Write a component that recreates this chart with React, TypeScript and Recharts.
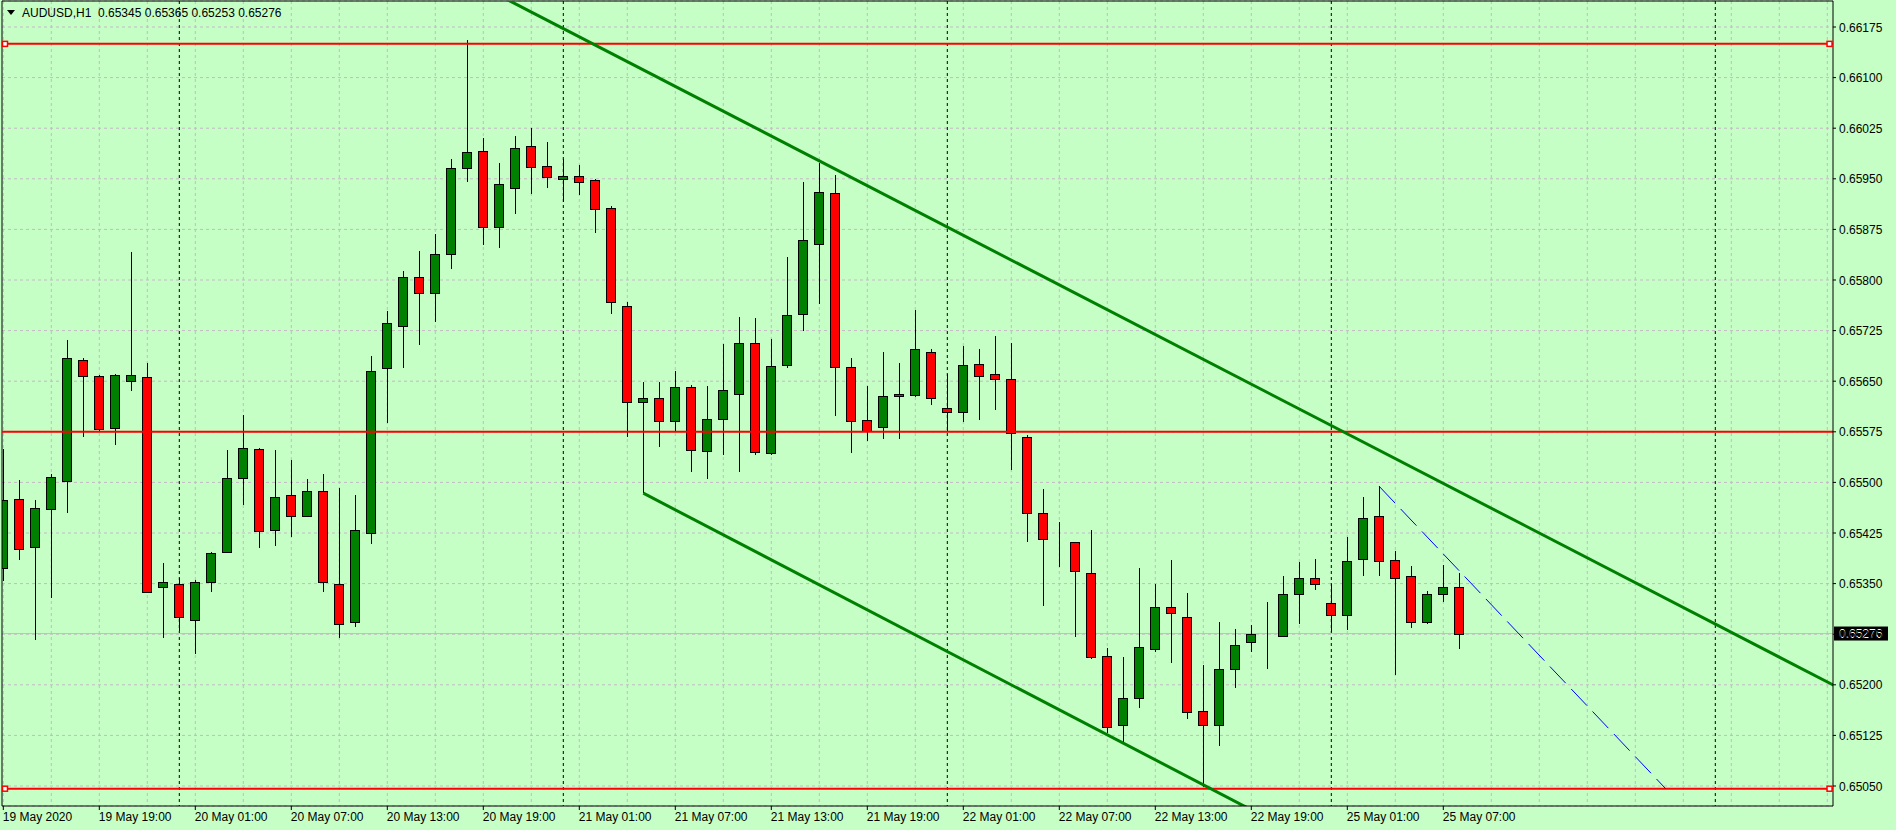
import React from "react";
import {
  ComposedChart,
  Bar,
  XAxis,
  YAxis,
  CartesianGrid,
  ReferenceLine,
  ReferenceDot,
} from "recharts";

// AUDUSD H1 candles, 19 May 2020 13:00 .. 25 May 2020 08:00 (one per hour, weekend skipped)
const opens = [
  0.65373, 0.65476, 0.65404, 0.6546, 0.65502, 0.65682, 0.65657, 0.6558, 0.65651, 0.65656,
  0.65345, 0.65349, 0.65296, 0.65352, 0.65397, 0.65507, 0.65549, 0.6543, 0.65481, 0.6545,
  0.65487, 0.65349, 0.65293, 0.65425, 0.65669, 0.65732, 0.65805, 0.6578, 0.65838, 0.65966,
  0.65991, 0.65878, 0.65936, 0.65998, 0.65969, 0.65949, 0.65954, 0.65948, 0.65906, 0.65761,
  0.65619, 0.65625, 0.65591, 0.65641, 0.65546, 0.65594, 0.65631, 0.65706, 0.65543, 0.65674,
  0.65749, 0.65854, 0.65929, 0.65671, 0.65592, 0.65582, 0.65628, 0.65629, 0.65694, 0.6561,
  0.65605, 0.65675, 0.6566, 0.65654, 0.65567, 0.65454, 0.65412, 0.65411, 0.65365, 0.65242,
  0.6514, 0.6518, 0.65253, 0.65315, 0.653, 0.65161, 0.6514, 0.65224, 0.65263, 0.65273,
  0.65273, 0.65334, 0.65358, 0.65321, 0.65303, 0.65387, 0.6545, 0.65385, 0.65361, 0.65293,
  0.65334, 0.65345,
];
const highs = [
  0.6555, 0.65504, 0.65474, 0.65512, 0.65711, 0.65684, 0.65659, 0.65661, 0.65842, 0.65677,
  0.6538, 0.65358, 0.65355, 0.65397, 0.65548, 0.656, 0.65551, 0.65548, 0.65533, 0.65505,
  0.65513, 0.65491, 0.65481, 0.65688, 0.65754, 0.65813, 0.65843, 0.65868, 0.65979, 0.66156,
  0.6601, 0.65973, 0.66013, 0.66025, 0.66005, 0.6598, 0.6597, 0.65949, 0.65909, 0.65768,
  0.65649, 0.65649, 0.65665, 0.65645, 0.65643, 0.65705, 0.65745, 0.65743, 0.65712, 0.65834,
  0.65945, 0.65974, 0.65955, 0.65685, 0.65643, 0.65694, 0.65677, 0.65755, 0.65697, 0.6566,
  0.65702, 0.65698, 0.65717, 0.65707, 0.6557, 0.6549, 0.65441, 0.65412, 0.65429, 0.65254,
  0.65241, 0.65373, 0.6535, 0.65385, 0.65336, 0.6523, 0.65293, 0.65283, 0.65289, 0.65322,
  0.65361, 0.65382, 0.65387, 0.6535, 0.65419, 0.65478, 0.65494, 0.65399, 0.65376, 0.65339,
  0.65377, 0.65365,
];
const lows = [
  0.65354, 0.65385, 0.65267, 0.65329, 0.65454, 0.65568, 0.65575, 0.65556, 0.65636, 0.65336,
  0.65269, 0.6528, 0.65246, 0.65338, 0.65395, 0.65467, 0.65403, 0.65406, 0.65419, 0.65448,
  0.65338, 0.65269, 0.65286, 0.65409, 0.65588, 0.65669, 0.65704, 0.65738, 0.65817, 0.65946,
  0.65852, 0.65848, 0.65898, 0.65927, 0.65937, 0.65915, 0.65926, 0.65869, 0.65749, 0.65568,
  0.65484, 0.65553, 0.65575, 0.65516, 0.65505, 0.65541, 0.65516, 0.65541, 0.65541, 0.6567,
  0.65725, 0.65765, 0.65599, 0.65543, 0.65562, 0.65565, 0.65565, 0.65626, 0.65614, 0.65576,
  0.6559, 0.65593, 0.65608, 0.65518, 0.65412, 0.65317, 0.65375, 0.65271, 0.65238, 0.65128,
  0.65115, 0.65165, 0.65248, 0.65232, 0.65149, 0.65049, 0.65109, 0.65195, 0.65248, 0.65223,
  0.65272, 0.6529, 0.6534, 0.65279, 0.65281, 0.65362, 0.65361, 0.65214, 0.65284, 0.6529,
  0.65322, 0.65253,
];
const closes = [
  0.65474, 0.65401, 0.65462, 0.65508, 0.65685, 0.65657, 0.65579, 0.65659, 0.65659, 0.65338,
  0.65353, 0.653, 0.65353, 0.65395, 0.65506, 0.65551, 0.65428, 0.65479, 0.6545, 0.65487,
  0.65352, 0.6529, 0.6543, 0.65665, 0.65736, 0.65804, 0.6578, 0.65839, 0.65966, 0.65989,
  0.65878, 0.65942, 0.65995, 0.65967, 0.65952, 0.65954, 0.65946, 0.65905, 0.65768, 0.65619,
  0.65625, 0.65591, 0.65642, 0.65548, 0.65594, 0.65637, 0.65706, 0.65545, 0.65672, 0.65748,
  0.65859, 0.65931, 0.65671, 0.65591, 0.65576, 0.65628, 0.65631, 0.65697, 0.65625, 0.65604,
  0.65674, 0.65657, 0.65654, 0.65573, 0.65454, 0.65416, 0.65411, 0.65368, 0.65241, 0.65138,
  0.65181, 0.65256, 0.65315, 0.65306, 0.65159, 0.6514, 0.65224, 0.65259, 0.65275, 0.65273,
  0.65334, 0.65358, 0.65349, 0.65303, 0.65383, 0.65447, 0.65383, 0.65358, 0.65293, 0.65334,
  0.65345, 0.65276,
];

const timeTicks = [0, 6, 12, 18, 24, 30, 36, 42, 48, 54, 60, 66, 72, 78, 84, 90];
const timeLabels = [
  "19 May 2020", "19 May 19:00", "20 May 01:00", "20 May 07:00", "20 May 13:00",
  "20 May 19:00", "21 May 01:00", "21 May 07:00", "21 May 13:00", "21 May 19:00",
  "22 May 01:00", "22 May 07:00", "22 May 13:00", "22 May 19:00", "25 May 01:00",
  "25 May 07:00",
];
const priceTicks = [
  0.6505, 0.65125, 0.652, 0.65275, 0.6535, 0.65425, 0.655, 0.65575, 0.6565, 0.65725,
  0.658, 0.65875, 0.6595, 0.66025, 0.661, 0.66175,
];
const daySeparators = [11, 35, 59, 83, 107];
const gridBars = [
  0, 3, 6, 9, 12, 15, 18, 21, 24, 27, 30, 33, 36, 39, 42, 45, 48, 51, 54, 57, 60, 63,
  66, 69, 72, 75, 78, 81, 84, 87, 90, 93, 96, 99, 102, 105, 108, 111, 114,
];

// objects drawn on the chart
const hLines = [0.6615, 0.65575, 0.65046];
const lastPrice = 0.65276;
const upperChannel = [{ x: 30, y: 0.66234 }, { x: 115, y: 0.65192 }];
const lowerChannel = [{ x: 40, y: 0.65484 }, { x: 80, y: 0.6499 }];
const blueTrend = [{ x: 86, y: 0.65494 }, { x: 103.9, y: 0.65046 }];

const X_MIN = -0.08125;
const X_MAX = 114.35625;
const Y_MIN = 0.6502036;
const Y_MAX = 0.6621354;

const BG = "#c6ffc6";
const GRID = "#c4b9c6";
const UP = "#008000";
const DOWN = "#ff0000";
const FONT = "'Liberation Sans', Arial, sans-serif";

const rows = opens.map((o, i) => ({
  i,
  open: o,
  high: highs[i],
  low: lows[i],
  close: closes[i],
  range: [lows[i], highs[i]],
}));

const Candle = (props: any) => {
  const { x, y, width, height, payload } = props;
  if (payload == null || height == null) return null;
  const { open, close, high, low } = payload;
  const cx = Math.round(x + width / 2) + 0.5;
  const py = (p: number) => y + ((high - p) / (high - low)) * height;
  const top = Math.round(py(Math.max(open, close))) + 0.5;
  const bot = Math.round(py(Math.min(open, close))) + 0.5;
  return (
    <g>
      <line
        x1={cx}
        x2={cx}
        y1={Math.round(y)}
        y2={Math.round(y + height)}
        stroke="#000"
        strokeWidth={1}
      />
      <rect
        x={cx - 5}
        y={top}
        width={9}
        height={Math.max(bot - top, 0)}
        fill={close >= open ? UP : DOWN}
        stroke="#000"
        strokeWidth={1}
      />
    </g>
  );
};

const XTick = (props: any) => {
  const { x, y, payload } = props;
  const idx = timeTicks.indexOf(payload.value);
  return (
    <text x={x - 0.5} y={y + 9} fill="#000" fontSize={12} fontFamily={FONT}>
      {idx >= 0 ? timeLabels[idx] : ""}
    </text>
  );
};

const YTick = (props: any) => {
  const { x, y, payload } = props;
  return (
    <text x={x} y={y + 4.5} fill="#000" fontSize={12} fontFamily={FONT}>
      {Number(payload.value).toFixed(5)}
    </text>
  );
};

const PriceTag = (props: any) => {
  const vb = props.viewBox || {};
  const right = vb.x + vb.width;
  return (
    <g>
      <rect x={right + 1} y={vb.y - 7} width={54} height={14} fill="#000" />
      <text x={right + 6} y={vb.y + 4.5} fill="#fff" fontSize={12} fontFamily={FONT}>
        {lastPrice.toFixed(5)}
      </text>
    </g>
  );
};

const Marker = (props: any) => (
  <rect
    x={props.cx - 2.5}
    y={props.cy - 2.5}
    width={5}
    height={5}
    fill="#fff"
    stroke={DOWN}
    strokeWidth={1.5}
  />
);

const App: React.FC = () => {
  return (
    <div
      style={{
        position: "absolute",
        left: 0,
        top: 0,
        width: 1896,
        height: 830,
        background: BG,
        fontFamily: FONT,
      }}
    >
      <ComposedChart
        width={1896}
        height={830}
        data={rows}
        margin={{ top: 1, right: 0, bottom: 0, left: 2 }}
      >
        {/* grid, day separators and bid line sit behind the candles */}
        <CartesianGrid
          stroke={GRID}
          strokeDasharray="3 3"
          verticalValues={gridBars}
        />
        <CartesianGrid
          horizontal={false}
          stroke="#000"
          strokeDasharray="3 3"
          verticalValues={daySeparators}
        />
        <CartesianGrid
          vertical={false}
          stroke="#c0c0c0"
          horizontalValues={[lastPrice]}
        />
        <XAxis
          type="number"
          dataKey="i"
          domain={[X_MIN, X_MAX]}
          allowDataOverflow
          ticks={timeTicks}
          interval={0}
          height={24}
          tickSize={4}
          tickLine={{ stroke: "#000" }}
          axisLine={{ stroke: "#000" }}
          tick={XTick}
        />
        <YAxis
          orientation="right"
          domain={[Y_MIN, Y_MAX]}
          allowDataOverflow
          ticks={priceTicks}
          interval={0}
          width={63}
          tickSize={3}
          tickMargin={3}
          tickLine={{ stroke: "#000" }}
          axisLine={{ stroke: "#000" }}
          tick={YTick}
        />

        <Bar dataKey="range" shape={Candle} barSize={10} isAnimationActive={false} />

        <ReferenceLine x={X_MIN} stroke="#000" />
        <ReferenceLine y={Y_MAX} stroke="#000" />
        <ReferenceLine y={lastPrice} stroke="none" label={PriceTag} />
        {hLines.map((p) => (
          <ReferenceLine key={"h" + p} y={p} stroke={DOWN} strokeWidth={2} />
        ))}
        <ReferenceLine segment={upperChannel} stroke={UP} strokeWidth={3} ifOverflow="hidden" />
        <ReferenceLine segment={lowerChannel} stroke={UP} strokeWidth={3} ifOverflow="hidden" />
        <ReferenceLine
          segment={blueTrend}
          stroke="#0000ff"
          strokeWidth={1}
          strokeDasharray="23 8"
          ifOverflow="hidden"
        />
        <ReferenceDot x={0.106} y={hLines[0]} shape={Marker} />
        <ReferenceDot x={114.14} y={hLines[0]} shape={Marker} />
        <ReferenceDot x={0.106} y={hLines[2]} shape={Marker} />
        <ReferenceDot x={114.14} y={hLines[2]} shape={Marker} />
      </ComposedChart>
      <svg
        width={400}
        height={24}
        style={{ position: "absolute", left: 0, top: 0, pointerEvents: "none" }}
      >
        <polygon points="7,10 15,10 11,15" fill="#000" />
        <text x={22} y={17} fontSize={12} fontFamily={FONT} fill="#000" style={{ whiteSpace: "pre" }}>
          {"AUDUSD,H1  0.65345 0.65365 0.65253 0.65276"}
        </text>
      </svg>
    </div>
  );
};

export default App;
